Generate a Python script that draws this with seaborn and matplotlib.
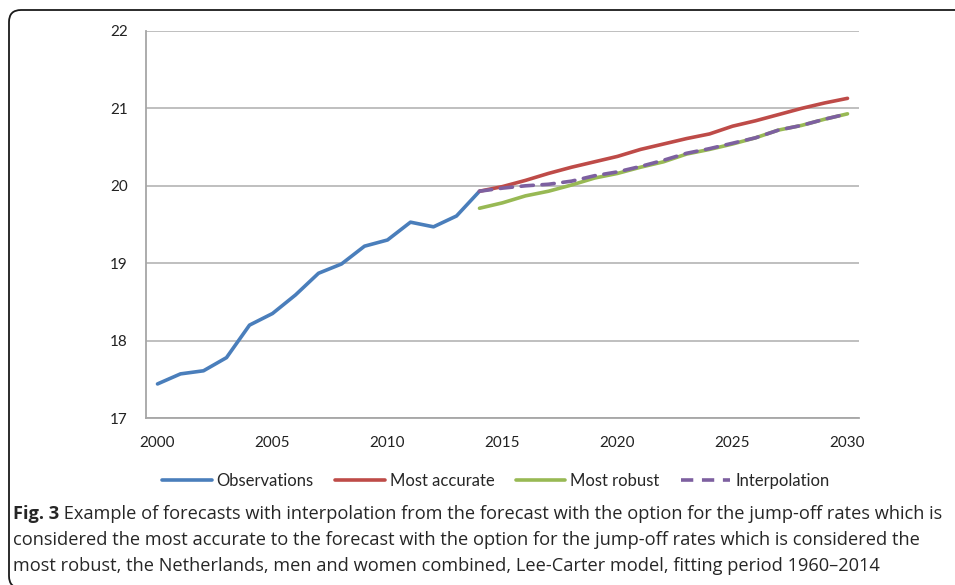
import matplotlib
matplotlib.use("Agg")
import matplotlib.pyplot as plt
import matplotlib.patches as mpatches
from matplotlib.lines import Line2D
import seaborn as sns
import pandas as pd

# Data
obs_years = list(range(2000, 2015))
observations = [17.44, 17.57, 17.61, 17.78, 18.20, 18.35, 18.59, 18.87, 18.99,
                19.22, 19.30, 19.53, 19.47, 19.61, 19.93]

fc_years = list(range(2014, 2031))
most_accurate = [19.93, 19.99, 20.07, 20.16, 20.24, 20.31, 20.38, 20.47, 20.54,
                 20.61, 20.67, 20.77, 20.84, 20.92, 21.00, 21.07, 21.13]
most_robust = [19.71, 19.78, 19.87, 19.93, 20.01, 20.10, 20.16, 20.24, 20.31,
               20.41, 20.47, 20.54, 20.62, 20.72, 20.78, 20.86, 20.93]
interpolation = [19.93, 19.97, 20.00, 20.02, 20.06, 20.13, 20.18, 20.25, 20.33,
                 20.42, 20.48, 20.55, 20.62, 20.72, 20.78, 20.86, 20.93]

x_labels = [2000, 2005, 2010, 2015, 2020, 2025, 2030]
y_ticks = [17, 18, 19, 20, 21, 22]

caption_bold = "Fig. 3"
caption_lines = [
    " Example of forecasts with interpolation from the forecast with the option for the jump-off rates which is",
    "considered the most accurate to the forecast with the option for the jump-off rates which is considered the",
    "most robust, the Netherlands, men and women combined, Lee-Carter model, fitting period 1960\u20132014",
]

colors = {"Observations": "#4A7EBB", "Most accurate": "#BE4B48",
          "Most robust": "#98B954", "Interpolation": "#7D60A0"}

sns.set_style("white")
plt.rcParams["font.family"] = ["Lato", "DejaVu Sans"]

fig = plt.figure(figsize=(9.55, 5.85), dpi=100)
ax = fig.add_axes([146 / 955, 1 - 418 / 585, (859 - 146) / 955, (418 - 31) / 585])

lw = 2.6
sns.lineplot(x=obs_years, y=observations, ax=ax, color=colors["Observations"], lw=lw)
sns.lineplot(x=fc_years, y=most_accurate, ax=ax, color=colors["Most accurate"], lw=lw)
sns.lineplot(x=fc_years, y=most_robust, ax=ax, color=colors["Most robust"], lw=lw)
ax.plot(fc_years, interpolation, color=colors["Interpolation"], lw=lw,
        dashes=(3.4, 2.4), dash_capstyle="round")

ax.set_xlim(1999.5, 2030.5)
ax.set_ylim(17, 22)
ax.set_xticks(x_labels)
ax.set_xticks([v - 0.5 for v in x_labels], minor=True)
ax.set_yticks(y_ticks)
ax.tick_params(axis="x", which="major", length=0, pad=13, labelsize=11, colors="#222222")
ax.tick_params(axis="x", which="minor", length=5, width=1.2, color="#A6A6A6", direction="out")
ax.tick_params(axis="y", length=5, width=1.2, color="#A6A6A6", direction="out",
               pad=8, labelsize=11, labelcolor="#222222")
ax.grid(axis="y", color="#BFBFBF", lw=1.4)
ax.set_axisbelow(True)
for s in ["top", "right"]:
    ax.spines[s].set_visible(False)
for s in ["left", "bottom"]:
    ax.spines[s].set_color("#A6A6A6")
    ax.spines[s].set_linewidth(1.3)

handles = [Line2D([], [], color=colors[k], lw=lw) for k in ["Observations", "Most accurate", "Most robust"]]
handles.append(Line2D([], [], color=colors["Interpolation"], lw=lw, dashes=(3.4, 2.4)))
fig.legend(handles, list(colors.keys()), loc="center", bbox_to_anchor=(496 / 955, 1 - 481 / 585),
           ncol=4, frameon=False, fontsize=12, handlelength=2.95, handletextpad=0.3,
           columnspacing=1.3)

# caption
cap_font = 13.15
t = fig.text(13 / 955, 1 - 514 / 585, caption_bold, fontsize=cap_font, fontweight="bold",
             family=["Open Sans", "DejaVu Sans"], va="center", ha="left")
fig.canvas.draw()
bb = t.get_window_extent()
fig.text(bb.x1 / 955, 1 - 514 / 585, caption_lines[0], fontsize=cap_font,
         family=["Open Sans", "DejaVu Sans"], va="center", ha="left")
for i, line in enumerate(caption_lines[1:]):
    fig.text(13 / 955, 1 - (540 + 26 * i) / 585, line, fontsize=cap_font,
             family=["Open Sans", "DejaVu Sans"], va="center", ha="left")

# rounded frame round the figure
frame = mpatches.FancyBboxPatch((9 / 100, -0.03), 10.5, 5.85 - 0.1 + 0.03,
                                boxstyle="round,pad=0,rounding_size=0.12",
                                transform=fig.dpi_scale_trans, fill=False,
                                ec="#1a1a1a", lw=1.3)
fig.patches.append(frame)

fig.savefig("out.png", dpi=100)
